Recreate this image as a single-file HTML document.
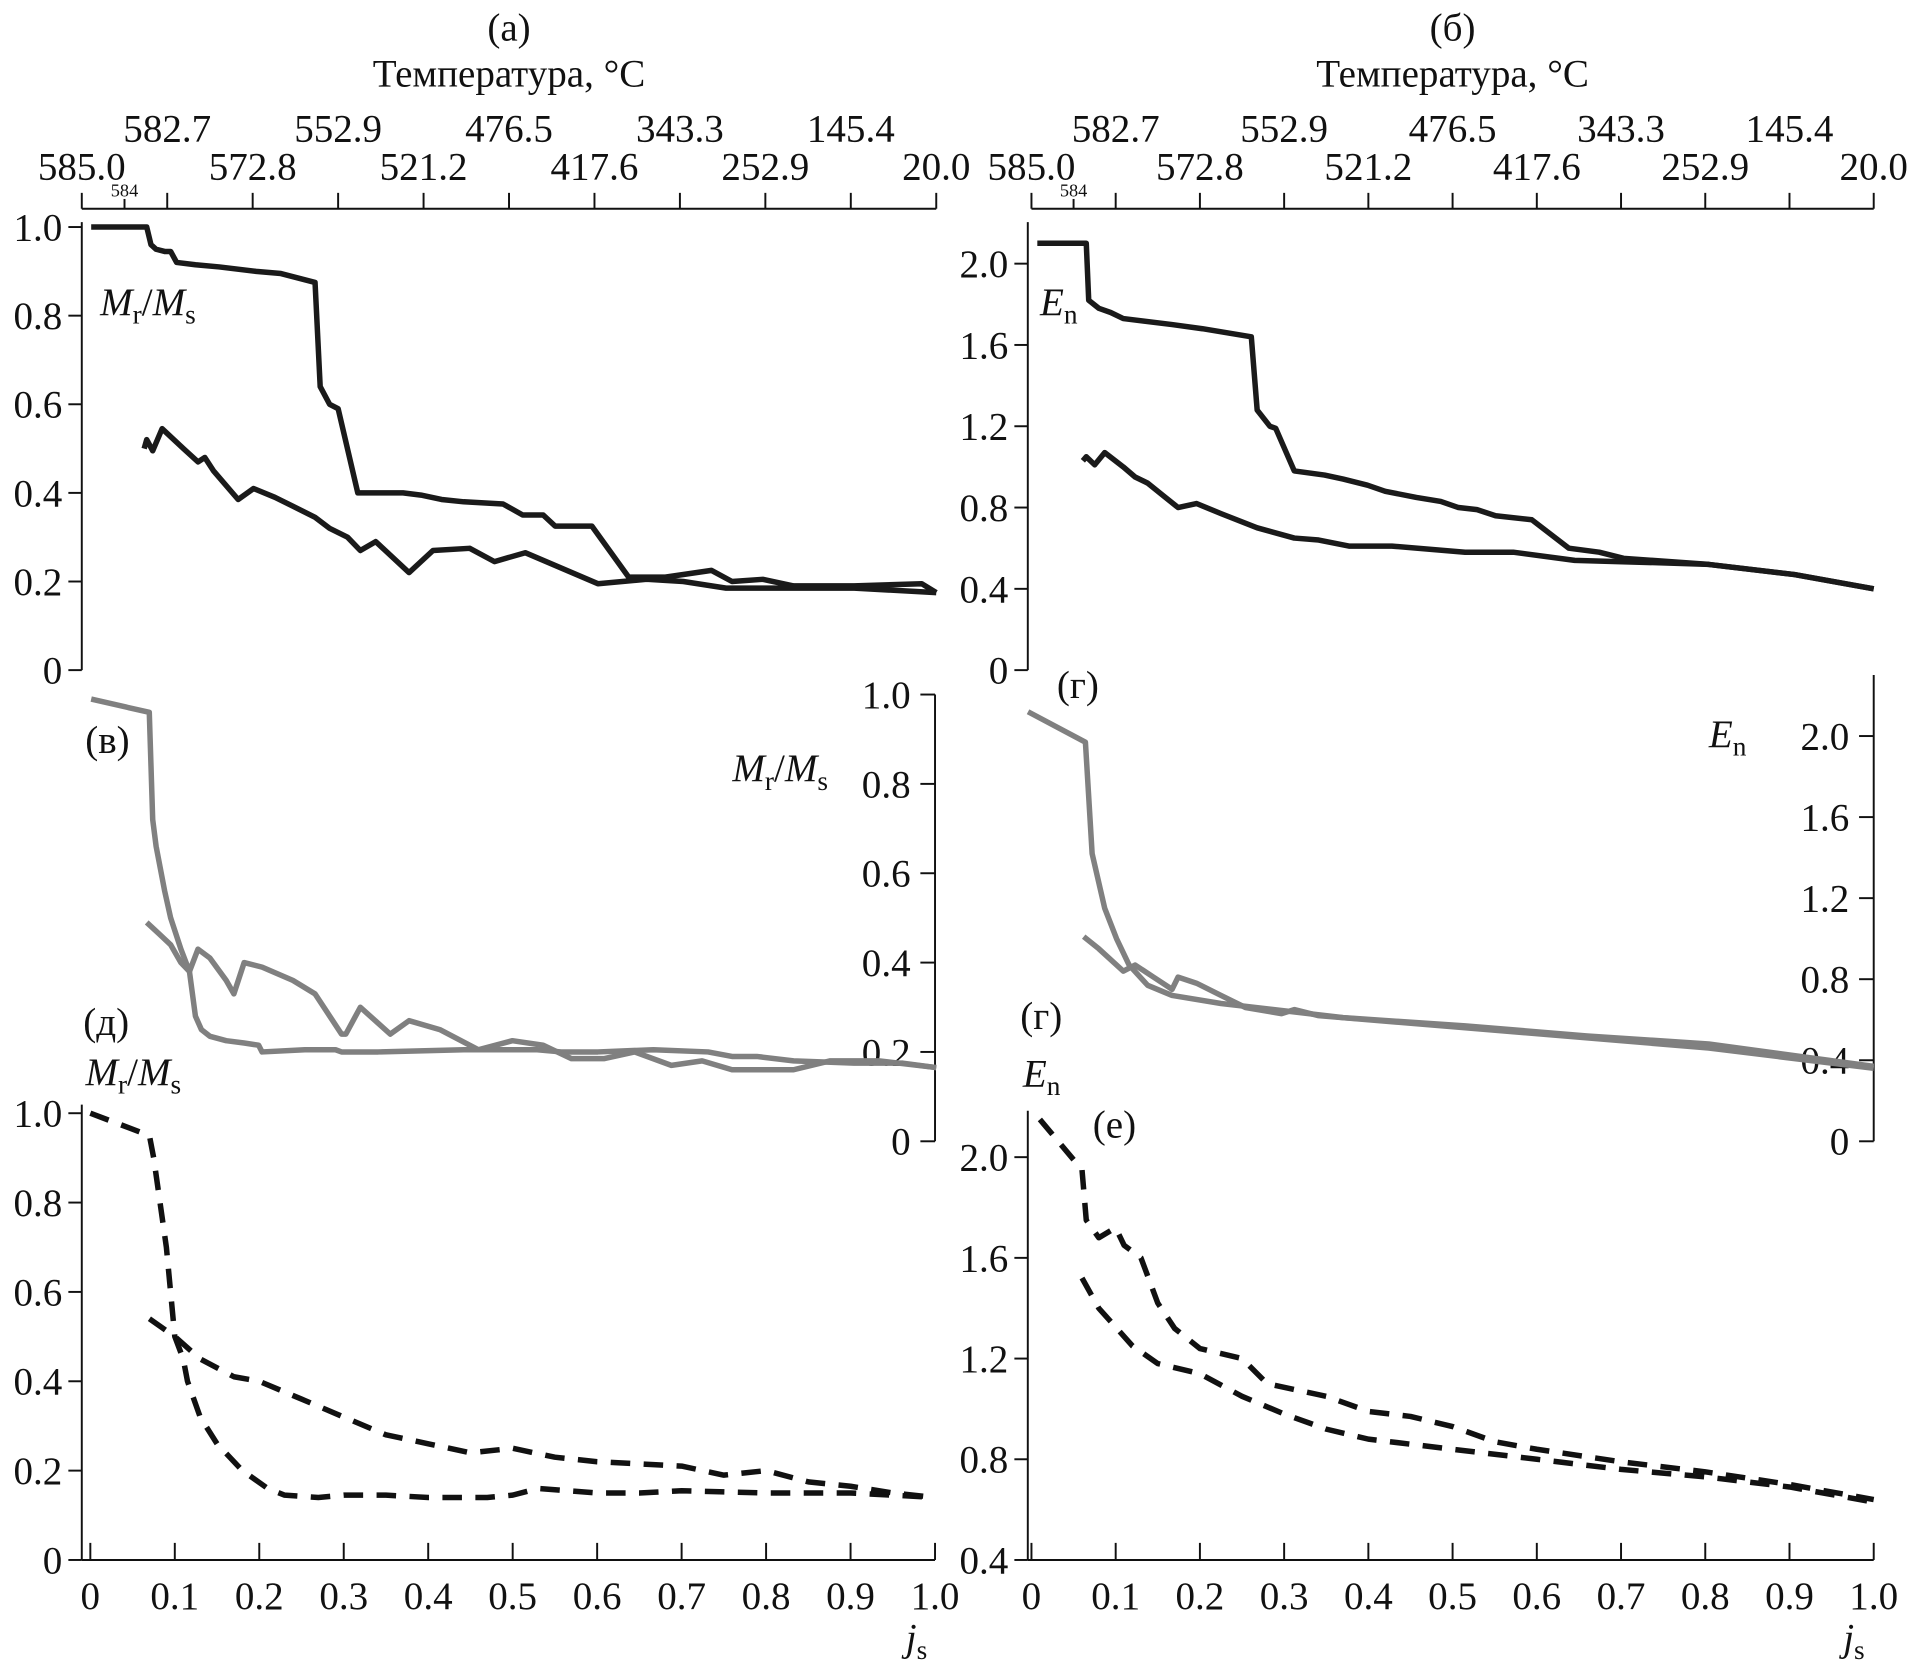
<!DOCTYPE html>
<html><head><meta charset="utf-8"><style>
html,body{margin:0;padding:0;background:#fff}
svg{display:block}
svg text{font-family:"Liberation Serif","DejaVu Serif",serif;fill:#111}
</style></head><body>
<svg id="c" width="1914" height="1673" viewBox="0 0 1568 1370.6" preserveAspectRatio="none" font-family="'Liberation Serif', 'DejaVu Serif', serif" xmlns="http://www.w3.org/2000/svg"></svg>
<script>
// ---- data (x as fraction of axis / j_s, y values) ----
const tempTopLabels = ["582.7","552.9","476.5","343.3","145.4"];
const tempBotLabels = ["585.0","572.8","521.2","417.6","252.9","20.0"];
const yTicksM = [0,0.2,0.4,0.6,0.8,1.0];
const yTicksE = [0,0.4,0.8,1.2,1.6,2.0];
const yTicksE2 = [0.4,0.8,1.2,1.6,2.0];
const jTicks = [0,0.1,0.2,0.3,0.4,0.5,0.6,0.7,0.8,0.9,1.0];

const aUpX=[0.011,0.076,0.081,0.087,0.097,0.104,0.111,0.133,0.161,0.204,0.233,0.273,0.279,0.290,0.300,0.323,0.376,0.397,0.421,0.447,0.493,0.516,0.540,0.554,0.597,0.640,0.683,0.737,0.761,0.797,0.833,0.904,0.983,1.0];
const aUpY=[1.0,1.0,0.96,0.95,0.945,0.945,0.92,0.915,0.91,0.9,0.895,0.875,0.64,0.6,0.59,0.4,0.4,0.395,0.385,0.38,0.375,0.35,0.35,0.325,0.325,0.21,0.21,0.225,0.2,0.205,0.19,0.19,0.195,0.175];
const aLoX=[0.073,0.076,0.083,0.094,0.119,0.136,0.144,0.154,0.183,0.201,0.226,0.247,0.273,0.290,0.311,0.326,0.344,0.383,0.411,0.454,0.483,0.519,0.604,0.661,0.704,0.754,0.904,1.0];
const aLoY=[0.5,0.52,0.495,0.545,0.5,0.47,0.48,0.45,0.385,0.41,0.39,0.37,0.345,0.32,0.3,0.27,0.29,0.22,0.27,0.275,0.245,0.265,0.195,0.205,0.2,0.185,0.185,0.175];

const bUpX=[0.007,0.065,0.068,0.080,0.094,0.109,0.167,0.203,0.261,0.268,0.283,0.290,0.312,0.348,0.370,0.399,0.420,0.457,0.486,0.507,0.529,0.551,0.594,0.638,0.674,0.703,0.804,0.906,1.0];
const bUpY=[2.1,2.1,1.82,1.78,1.76,1.73,1.7,1.68,1.64,1.28,1.2,1.19,0.98,0.96,0.94,0.91,0.88,0.85,0.83,0.8,0.79,0.76,0.74,0.6,0.58,0.55,0.52,0.47,0.4];
const bLoX=[0.061,0.065,0.075,0.087,0.109,0.123,0.138,0.159,0.174,0.196,0.225,0.268,0.312,0.341,0.377,0.428,0.515,0.572,0.645,0.732,0.804,0.906,1.0];
const bLoY=[1.03,1.05,1.01,1.07,1.0,0.95,0.92,0.85,0.8,0.82,0.77,0.7,0.65,0.64,0.61,0.61,0.58,0.58,0.54,0.53,0.52,0.47,0.4];

const vAX=[0.011,0.079,0.083,0.087,0.097,0.104,0.116,0.126,0.133,0.140,0.150,0.169,0.190,0.207,0.211,0.261,0.297,0.304,0.347,0.447,0.533,0.561,0.604,0.669,0.733,0.761,0.790,0.833,0.904,0.961,1.0];
const vAY=[0.99,0.96,0.72,0.66,0.56,0.5,0.43,0.38,0.28,0.25,0.235,0.225,0.22,0.215,0.2,0.205,0.205,0.2,0.2,0.205,0.205,0.2,0.2,0.205,0.2,0.19,0.19,0.18,0.175,0.175,0.165];
const vBX=[0.076,0.090,0.104,0.116,0.126,0.136,0.150,0.169,0.178,0.190,0.211,0.247,0.273,0.304,0.309,0.326,0.361,0.383,0.419,0.464,0.504,0.540,0.573,0.611,0.647,0.690,0.726,0.761,0.833,0.876,0.904,0.933,1.0];
const vBY=[0.49,0.465,0.44,0.4,0.38,0.43,0.41,0.36,0.33,0.4,0.39,0.36,0.33,0.24,0.24,0.3,0.24,0.27,0.25,0.205,0.225,0.215,0.185,0.185,0.2,0.17,0.18,0.16,0.16,0.18,0.18,0.18,0.165];

const gAX=[-0.004,0.064,0.072,0.087,0.101,0.116,0.138,0.167,0.225,0.370,0.515,0.660,0.804,1.0];
const gAY=[2.12,1.97,1.42,1.15,1.0,0.87,0.77,0.72,0.68,0.61,0.57,0.52,0.48,0.37];
const gBX=[0.062,0.080,0.109,0.123,0.145,0.167,0.174,0.196,0.225,0.254,0.297,0.312,0.341,0.515,0.660,0.804,1.0];
const gBY=[1.01,0.95,0.84,0.87,0.81,0.75,0.81,0.78,0.72,0.66,0.63,0.65,0.62,0.56,0.51,0.46,0.36];

const dAX=[0,0.07,0.075,0.09,0.1,0.11,0.115,0.13,0.15,0.18,0.21,0.23,0.27,0.3,0.35,0.4,0.47,0.5,0.53,0.6,0.65,0.7,0.8,0.85,0.9,0.95,1.0];
const dAY=[1.0,0.95,0.9,0.7,0.5,0.45,0.4,0.32,0.26,0.2,0.16,0.145,0.14,0.145,0.145,0.14,0.14,0.145,0.16,0.15,0.15,0.155,0.15,0.15,0.15,0.145,0.14];
const dBX=[0.07,0.1,0.13,0.17,0.2,0.25,0.3,0.35,0.4,0.45,0.5,0.55,0.6,0.65,0.7,0.75,0.8,0.85,0.9,0.95,1.0];
const dBY=[0.54,0.5,0.45,0.41,0.4,0.36,0.32,0.28,0.26,0.24,0.25,0.23,0.22,0.215,0.21,0.19,0.2,0.175,0.165,0.15,0.14];

const eAX=[0.01,0.06,0.065,0.08,0.1,0.11,0.13,0.15,0.17,0.2,0.25,0.28,0.35,0.4,0.45,0.5,0.55,0.6,0.7,0.8,0.9,1.0];
const eAY=[2.15,1.95,1.75,1.68,1.72,1.65,1.6,1.42,1.32,1.24,1.2,1.1,1.05,0.99,0.97,0.93,0.87,0.84,0.79,0.75,0.7,0.64];
const eBX=[0.06,0.08,0.12,0.15,0.2,0.25,0.3,0.35,0.4,0.5,0.6,0.7,0.8,0.9,1.0];
const eBY=[1.52,1.4,1.25,1.18,1.14,1.05,0.98,0.92,0.88,0.84,0.8,0.76,0.73,0.69,0.63];

// ---- helpers ----
const svg=document.getElementById('c');
const NS='http://www.w3.org/2000/svg';
function mk(tag,attrs,parent){const e=document.createElementNS(NS,tag);for(const k in attrs)e.setAttribute(k,attrs[k]);(parent||svg).appendChild(e);return e;}
function txt(x,y,s,size,anchor,parent){const t=mk('text',{x:x,y:y,'font-size':size,'text-anchor':anchor||'middle','font-family':"Liberation Serif, DejaVu Serif, serif"},parent);t.textContent=s;return t;}
function scaleX(x0,x1){return f=>x0+f*(x1-x0);}
function scaleY(v0,y0,v1,y1){return v=>y0+(v-v0)*(y1-y0)/(v1-v0);}
function line(xs,ys,sx,sy,style,name){
  const d=xs.map((x,i)=>(i?'L':'M')+sx(x).toFixed(1)+','+sy(ys[i]).toFixed(1)).join('');
  const p=mk('path',Object.assign({d:d,fill:'none','stroke-linejoin':'round'},style));
  
  
  return p;
}
function label(x,y,parts,size,name){
  const t=mk('text',{x:x,y:y,'font-size':size,'font-style':'italic','text-anchor':'start','font-family':"Liberation Serif, DejaVu Serif, serif"});
  
  
  parts.forEach(pr=>{
    const a=mk('tspan',{},t);a.textContent=pr[0];
    const b=mk('tspan',{'font-size':size*0.7,'font-style':'normal',dy:size*0.22},t);b.textContent=pr[1];
    if(pr[2]){const c=mk('tspan',{dy:-size*0.22,'font-style':'normal'},t);c.textContent=pr[2];}
    else{const c=mk('tspan',{dy:-size*0.22},t);c.textContent='';}
  });
  return t;
}
function g(name){const e=mk('g',{});return e;}
const ST={stroke:'#111','stroke-width':1.6,fill:'none'};
const FS=32;

function tempAxis(x0,x1,name,title,letter){
  const G=g(name);
  const y=171, sx=scaleX(x0,x1);
  mk('line',Object.assign({x1:x0,y1:y,x2:x1,y2:y},ST),G);
  for(let i=0;i<=10;i++){const x=sx(i/10);mk('line',Object.assign({x1:x,y1:y,x2:x,y2:y-13},ST),G);}
  const x584=sx(0.05);mk('line',Object.assign({x1:x584,y1:y,x2:x584,y2:y-8},ST),G);
  txt(x584,161,'584',15,'middle',G);
  tempBotLabels.forEach((s,i)=>txt(sx(i*0.2),147,s,FS,'middle',G));
  tempTopLabels.forEach((s,i)=>txt(sx(0.1+i*0.2),116,s,FS,'middle',G));
  txt(sx(0.5),33,letter,FS,'middle',G);
  txt(sx(0.5),71,title,FS,'middle',G);
}
function yAxisLeft(x,vals,sy,yTop,yBot,name,fmt){
  const G=g(name);
  mk('line',Object.assign({x1:x,y1:yTop,x2:x,y2:yBot},ST),G);
  vals.forEach(v=>{const y=sy(v);mk('line',Object.assign({x1:x-11,y1:y,x2:x,y2:y},ST),G);txt(x-16,y+11,fmt(v),FS,'end',G);});
}
function yAxisRight(x,vals,sy,yTop,yBot,name,fmt){
  const G=g(name);
  mk('line',Object.assign({x1:x,y1:yTop,x2:x,y2:yBot},ST),G);
  vals.forEach(v=>{const y=sy(v);mk('line',Object.assign({x1:x-12,y1:y,x2:x,y2:y},ST),G);txt(x-20,y+11,fmt(v),FS,'end',G);});
}
const f1=v=>v===0?'0':v.toFixed(1);

// ---- Panel a ----
tempAxis(67,767,'temp-axis-a','Температура, °С','(а)');
const sxA=scaleX(67,767), syA=scaleY(0,549,1,186);
yAxisLeft(67,yTicksM,syA,182,549,'y-axis-a',f1);
label(82,258,[['M','r','/'],['M','s']],FS,'y-label-a');
line(aUpX,aUpY,sxA,syA,{stroke:'#1a1a1a','stroke-width':4.5},'curve-a-upper');
line(aLoX,aLoY,sxA,syA,{stroke:'#1a1a1a','stroke-width':4.5},'curve-a-lower');

// ---- Panel b ----
tempAxis(845,1535,'temp-axis-b','Температура, °С','(б)');
const sxB=scaleX(845,1535), syB=scaleY(0,549,2,216);
yAxisLeft(842,yTicksE,syB,182,549,'y-axis-b',f1);
label(852,258,[['E','n']],FS,'y-label-b');
line(bUpX,bUpY,sxB,syB,{stroke:'#1a1a1a','stroke-width':4.5},'curve-b-upper');
line(bLoX,bLoY,sxB,syB,{stroke:'#1a1a1a','stroke-width':4.5},'curve-b-lower');

// ---- Panel v ----
const syV=scaleY(0,935,1,569);
yAxisRight(766,yTicksM,syV,569,935,'y-axis-v',f1);
txt(88,617,'(в)',FS,'middle');
label(600,640,[['M','r','/'],['M','s']],FS,'y-label-v');
line(vAX,vAY,sxA,syV,{stroke:'#808080','stroke-width':4.5},'curve-v-1');
line(vBX,vBY,sxA,syV,{stroke:'#808080','stroke-width':4.5},'curve-v-2');

// ---- Panel g ----
const syG=scaleY(0,935,2,603);
yAxisRight(1535,yTicksE,syG,553,935,'y-axis-g',f1);
txt(883,572,'(г)',FS,'middle');
label(1400,612,[['E','n']],FS,'y-label-g');
line(gAX,gAY,sxB,syG,{stroke:'#808080','stroke-width':4.5},'curve-g-1');
line(gBX,gBY,sxB,syG,{stroke:'#808080','stroke-width':4.5},'curve-g-2');

// ---- Panel d ----
const sxD=scaleX(74,766), syD=scaleY(0,1278,1,912);
yAxisLeft(67,yTicksM,syD,905,1278,'y-axis-d',f1);
(function(){const G=g('x-axis-d');mk('line',Object.assign({x1:67,y1:1278,x2:766,y2:1278},ST),G);
 jTicks.forEach(v=>{const x=sxD(v);mk('line',Object.assign({x1:x,y1:1278,x2:x,y2:1264},ST),G);txt(x,1318,v===0?'0':v.toFixed(1),FS,'middle',G);});})();
txt(87,848,'(д)',FS,'middle');
label(70,889,[['M','r','/'],['M','s']],FS,'y-label-d');
label(742,1352,[['j','s']],FS,'x-label-d');
line(dAX,dAY,sxD,syD,{stroke:'#111','stroke-width':4.5,'stroke-dasharray':'16,11'},'curve-d-1');
line(dBX,dBY,sxD,syD,{stroke:'#111','stroke-width':4.5,'stroke-dasharray':'16,11'},'curve-d-2');

// ---- Panel e ----
const sxE=scaleX(845,1535), syE=scaleY(0.4,1278,2.0,948);
yAxisLeft(842,yTicksE2,syE,910,1278,'y-axis-e',f1);
(function(){const G=g('x-axis-e');mk('line',Object.assign({x1:842,y1:1278,x2:1535,y2:1278},ST),G);
 jTicks.forEach(v=>{const x=sxE(v);mk('line',Object.assign({x1:x,y1:1278,x2:x,y2:1264},ST),G);txt(x,1318,v===0?'0':v.toFixed(1),FS,'middle',G);});})();
txt(853,843,'(г)',FS,'middle');
label(838,890,[['E','n']],FS,'y-label-e');
txt(913,932,'(е)',FS,'middle');
label(1510,1352,[['j','s']],FS,'x-label-e');
line(eAX,eAY,sxE,syE,{stroke:'#111','stroke-width':4.5,'stroke-dasharray':'16,11'},'curve-e-1');
line(eBX,eBY,sxE,syE,{stroke:'#111','stroke-width':4.5,'stroke-dasharray':'16,11'},'curve-e-2');
</script>
</body></html>
